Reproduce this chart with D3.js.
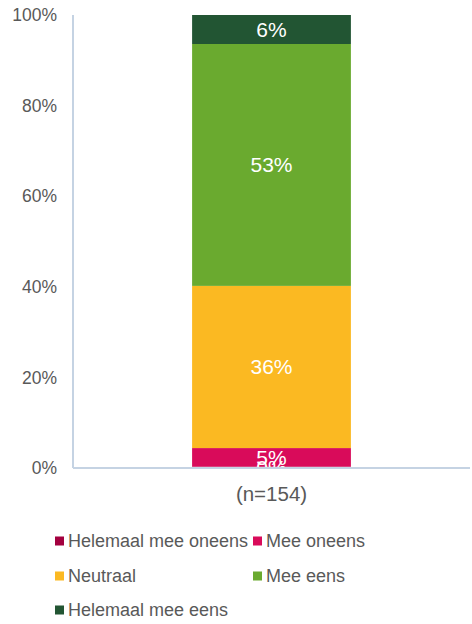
<!DOCTYPE html>
<html>
<head>
<meta charset="utf-8">
<script src="https://cdn.jsdelivr.net/npm/d3@7"></script>
<style>
  body { margin: 0; background: #fff; }
  text { font-family: "Liberation Sans", Arial, sans-serif; }
</style>
</head>
<body>
<div class="chart"></div>
<script>
var categories = ["(n=154)"];
var series = ["Helemaal mee oneens", "Mee oneens", "Neutraal", "Mee eens", "Helemaal mee eens"];
var values = [0.3, 4.1, 35.8, 53.4, 6.4];
var valueLabels = ["0%", "5%", "36%", "53%", "6%"];
var colors = ["#a3003f", "#d90b5a", "#fbb922", "#6aaa2f", "#225533"];
var yTicks = [0, 20, 40, 60, 80, 100];

var svgWidth = 472;
var svgHeight = 624;
var margin = { top: 15, right: 2, bottom: 156, left: 73 };
var width = svgWidth - margin.left - margin.right;
var height = svgHeight - margin.top - margin.bottom;

var svg = d3.select(".chart")
    .append("svg")
    .attr("width", svgWidth)
    .attr("height", svgHeight);

var chart = svg.append("g")
    .attr("transform", "translate(" + margin.left + "," + margin.top + ")");

var x = d3.scaleBand()
    .domain(categories)
    .range([0, width])
    .paddingInner(0.6)
    .paddingOuter(0.3);

var y = d3.scaleLinear()
    .domain([0, 100])
    .range([height, 0]);

// stack the single bar
var stacked = [];
var acc = 0;
values.forEach(function(v, i) {
    stacked.push({ name: series[i], y0: acc, y1: acc + v, label: valueLabels[i], color: colors[i] });
    acc += v;
});

chart.selectAll("rect.seg")
    .data(stacked)
    .enter()
    .append("rect")
    .attr("class", "seg")
    .attr("x", x(categories[0]))
    .attr("width", x.bandwidth())
    .attr("y", function(d) { return y(d.y1); })
    .attr("height", function(d) { return y(d.y0) - y(d.y1); })
    .style("fill", function(d) { return d.color; });

chart.selectAll("text.val")
    .data(stacked)
    .enter()
    .append("text")
    .attr("class", "val")
    .attr("x", x(categories[0]) + x.bandwidth() / 2)
    .attr("y", function(d) { return (y(d.y0) + y(d.y1)) / 2; })
    .attr("dy", "0.35em")
    .attr("text-anchor", "middle")
    .style("font-size", "21px")
    .style("fill", "#fff")
    .text(function(d) { return d.label; });

// white area below axis hides overflow of the tiny bottom label
chart.append("rect")
    .attr("x", -10)
    .attr("y", height)
    .attr("width", width + 10)
    .attr("height", 14)
    .style("fill", "#fff");

// axes
var leftAxis = d3.axisLeft(y)
    .tickValues(yTicks)
    .tickSize(0)
    .tickPadding(16)
    .tickFormat(function(d) { return d + "%"; });

var gy = chart.append("g").call(leftAxis);
gy.select(".domain").remove();
gy.selectAll("text")
    .style("font-size", "17.5px")
    .style("fill", "#595959");

chart.append("line")
    .attr("x1", 0).attr("x2", 0)
    .attr("y1", 0).attr("y2", height)
    .style("stroke", "#c5d3e3")
    .style("stroke-width", 2);

var bottomAxis = d3.axisBottom(x).tickSize(0).tickPadding(18);
var gx = chart.append("g")
    .attr("transform", "translate(0," + height + ")")
    .call(bottomAxis);
gx.select(".domain").remove();
gx.selectAll("text")
    .style("font-size", "20.5px")
    .style("fill", "#595959");

chart.append("line")
    .attr("x1", 0).attr("x2", width)
    .attr("y1", height).attr("y2", height)
    .style("stroke", "#c5d3e3")
    .style("stroke-width", 2);

// legend
var legendPos = [[55, 541], [253, 541], [55, 576], [253, 576], [55, 610]];
var legend = svg.selectAll("g.legend")
    .data(series)
    .enter()
    .append("g")
    .attr("class", "legend")
    .attr("transform", function(d, i) { return "translate(" + legendPos[i][0] + "," + legendPos[i][1] + ")"; });

legend.append("rect")
    .attr("x", 0)
    .attr("y", -4.5)
    .attr("width", 9)
    .attr("height", 9)
    .style("fill", function(d, i) { return colors[i]; });

legend.append("text")
    .attr("x", 13)
    .attr("y", 0)
    .attr("dy", "0.35em")
    .style("font-size", "18px")
    .style("fill", "#595959")
    .text(function(d) { return d; });
</script>
</body>
</html>
